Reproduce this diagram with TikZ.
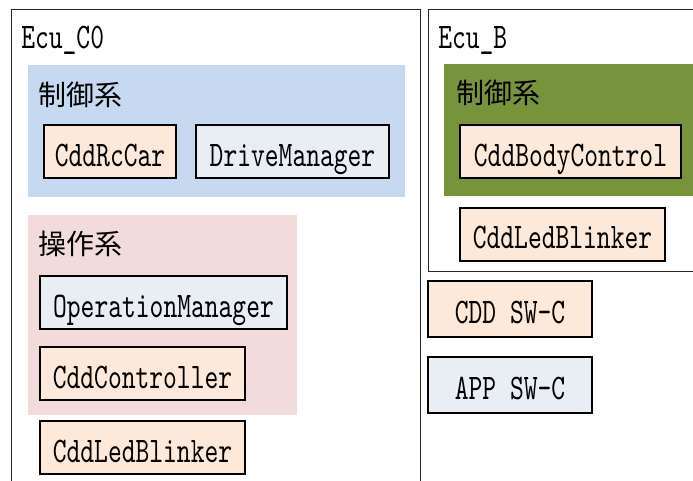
\documentclass[tikz,border=0pt]{standalone}
\usepackage{fontspec}
\newfontfamily\swfont{lmmono10-regular.otf}[FakeStretch=0.73]
\newfontfamily\jpfont{Noto Sans CJK JP}
\definecolor{ctrlblue}{HTML}{C6D9F1}
\definecolor{oppink}{HTML}{F2DCDB}
\definecolor{ctrlgreen}{HTML}{77933C}
\definecolor{cddfill}{HTML}{FDE9D9}
\definecolor{appfill}{HTML}{E9EEF5}
\begin{document}
\begin{tikzpicture}[x={(0.75pt,0)},y={(0,-0.75pt)},
    ecu/.style={draw=black!85,line width=1.1pt,anchor=north west,inner sep=0pt},
    area/.style={anchor=north west,inner sep=0pt},
    swc/.style={draw,line width=1.5pt,inner sep=0pt,minimum height=39.75pt,
        text height=22pt,text depth=0.25pt,font=\swfont\fontsize{27pt}{27pt}\selectfont},
    cdd/.style={swc,fill=cddfill},
    app/.style={swc,fill=appfill},
    lbl/.style={anchor=base west,inner sep=0pt,font=\swfont\fontsize{27pt}{27pt}\selectfont},
    jplbl/.style={anchor=west,inner sep=0pt,font=\jpfont\fontsize{21pt}{21pt}\selectfont}]
\useasboundingbox (0,0) rectangle (693,480);
\clip (0,0) rectangle (693,480);

\node[ecu,minimum width=306.75pt,minimum height=367.5pt] (ecuC) at (11,9) {};
\node[ecu,minimum width=210pt,minimum height=196.5pt] (ecuB) at (428,9) {};

\node[area,fill=ctrlblue,minimum width=282.75pt,minimum height=99pt] (ctrlC) at (28,65) {};
\node[area,fill=oppink,minimum width=201.75pt,minimum height=150pt] (opC) at (28,215) {};
\node[area,fill=ctrlgreen,minimum width=192pt,minimum height=99pt] (ctrlB) at (444,64) {};

\node[lbl] (ecuClabel) at (21,48) {Ecu\_C0};
\node[lbl] (ecuBlabel) at (438,48) {Ecu\_B};
\node[jplbl] (ctrlClabel) at (38,94.5) {制御系};
\node[jplbl] (opClabel) at (38,244) {操作系};
\node[jplbl] (ctrlBlabel) at (456,93) {制御系};

\node[cdd,minimum width=99pt] (rccar) at (110,151.5) {CddRcCar};
\node[app,minimum width=144.75pt] (drive) at (292.5,151.5) {DriveManager};
\node[app,minimum width=185.25pt] (opmgr) at (163.5,302.5) {OperationManager};
\node[cdd,minimum width=153.75pt] (ctrlr) at (142.5,373.5) {CddController};
\node[cdd,minimum width=153.75pt] (ledC) at (142.5,447.5) {CddLedBlinker};

\node[cdd,minimum width=165.75pt] (body) at (570.5,151.5) {CddBodyControl};
\node[cdd,minimum width=153.75pt] (ledB) at (562.5,234) {CddLedBlinker};

\node[cdd,minimum width=123pt,minimum height=42pt] (cddkey) at (510,309) {CDD SW-C};
\node[app,minimum width=123pt,minimum height=42pt] (appkey) at (510,384.5) {APP SW-C};

\end{tikzpicture}
\end{document}
